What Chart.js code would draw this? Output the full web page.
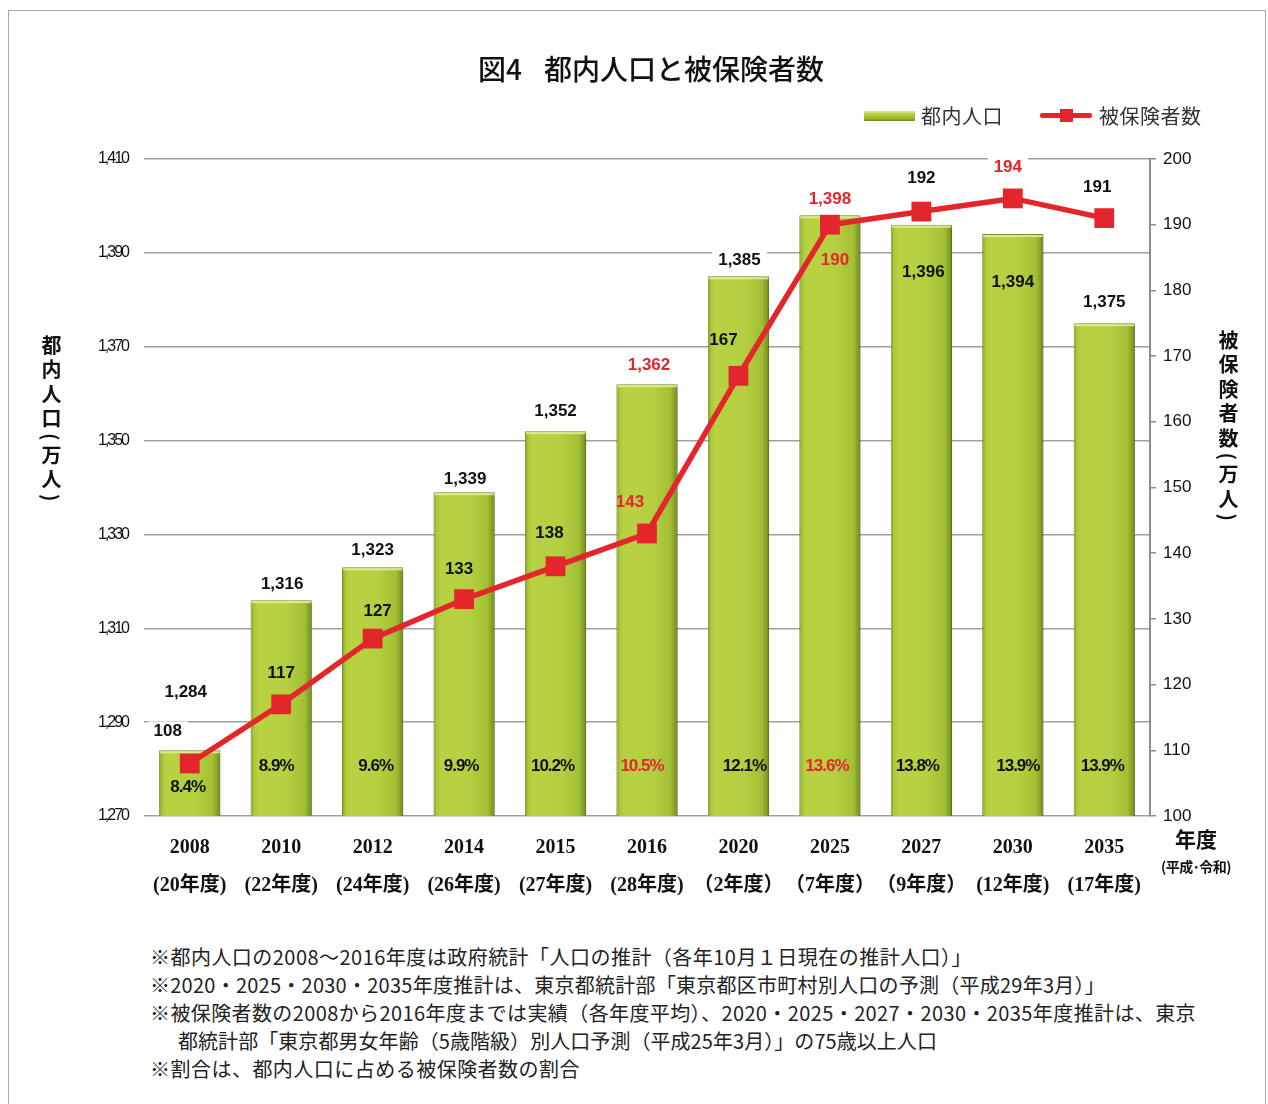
<!DOCTYPE html>
<html><head><meta charset="utf-8">
<script src="https://cdn.jsdelivr.net/npm/chart.js@4/dist/chart.umd.min.js"></script>
<style>
html,body{margin:0;padding:0;background:#fff;}
body{width:1268px;height:1104px;position:relative;overflow:hidden;font-family:'Noto Sans CJK JP',sans-serif;}
#frame{position:absolute;left:8px;top:10px;width:1258px;height:1120px;border:1.5px solid #a8a8a8;box-sizing:border-box;}
#c{position:absolute;left:0;top:0;}
.t{position:absolute;white-space:nowrap;color:#111;}
.vt{position:absolute;writing-mode:vertical-rl;text-orientation:mixed;font-weight:700;color:#111;white-space:nowrap;}
.fn{position:absolute;left:150px;white-space:nowrap;font-size:20px;line-height:28px;color:#222;}
</style></head><body>
<div id="frame"></div>
<canvas id="c" width="1268" height="920"></canvas>

<div class="t" style="left:478px;top:53px;font-size:28px;line-height:30px;font-weight:500;"><span>図4</span><span style="margin-left:22px">都内人口と被保険者数</span></div>

<div style="position:absolute;left:864px;top:111px;width:51px;height:10px;background:linear-gradient(#dbe98e 0%,#b4cf3f 30%,#9dbb32 70%,#6f8a1d 100%);"></div>
<div class="t" style="left:921px;top:104px;font-size:20px;line-height:24px;letter-spacing:0.5px;color:#333;">都内人口</div>
<div style="position:absolute;left:1040px;top:113px;width:52px;height:5px;background:#e3262b;border-radius:2px;"></div>
<div style="position:absolute;left:1060px;top:109px;width:13px;height:13px;background:#e3262b;"></div>
<div class="t" style="left:1099px;top:104px;font-size:20px;line-height:24px;letter-spacing:0.5px;color:#333;">被保険者数</div>

<div class="vt" style="left:40px;top:335px;font-size:20px;line-height:22px;letter-spacing:4.5px;">都内人口(万人)</div>
<div class="vt" style="left:1217px;top:330px;font-size:20px;line-height:22px;letter-spacing:4.5px;">被保険者数(万人)</div>

<div class="t" style="left:1156px;top:825px;width:80px;text-align:center;font-size:21px;line-height:26px;font-weight:700;">年度</div>
<div class="t" style="left:1150px;top:857px;width:92px;text-align:center;font-size:14px;line-height:18px;font-weight:700;letter-spacing:-0.5px;">(平成･令和)</div>

<div class="fn" data-w="822" style="top:943px;">※都内人口の2008～2016年度は政府統計「人口の推計（各年10月１日現在の推計人口）」</div>
<div class="fn" data-w="955" style="top:971px;">※2020・2025・2030・2035年度推計は、東京都統計部「東京都区市町村別人口の予測（平成29年3月）」</div>
<div class="fn" data-w="1046" style="top:999px;">※被保険者数の2008から2016年度までは実績（各年度平均）、2020・2025・2027・2030・2035年度推計は、東京</div>
<div class="fn" data-w="759" style="top:1027px;left:178px;">都統計部「東京都男女年齢（5歳階級）別人口予測（平成25年3月）」の75歳以上人口</div>
<div class="fn" data-w="430" style="top:1055px;">※割合は、都内人口に占める被保険者数の割合</div>

<script>
// ---- data ----
const categories = ['2008','2010','2012','2014','2015','2016','2020','2025','2027','2030','2035'];
const fiscalLabels = ['(20年度)','(22年度)','(24年度)','(26年度)','(27年度)','(28年度)','（2年度）','（7年度）','（9年度）','(12年度)','(17年度)'];
const population = [1284,1316,1323,1339,1352,1362,1385,1398,1396,1394,1375];
const insured = [108,117,127,133,138,143,167,190,192,194,191];
const ratioLabels = ['8.4%','8.9%','9.6%','9.9%','10.2%','10.5%','12.1%','13.6%','13.8%','13.9%','13.9%'];
const popAxis = {min:1270, max:1410, step:20};
const insAxis = {min:100, max:200, step:10};

// ---- styles ----
const RED = '#e3262b', BLACK = '#111';
const popRed = [5,7];
const insRed = [5,7,9];
const ratioRed = [5,7];
const popLabelOffsets = [[-4,-58],[1,-16],[0,-17],[1,-13],[0,-20],[2,-19],[1,-16],[0,-16],[2,48],[0,48],[0,-21]];
const insLabelOffsets = [[-22,-32],[0,-31],[5,-27],[-5,-30],[-6,-33],[-17,-31],[-15,-35],[5,36],[0,-33],[-5,-31],[-7,-31]];
const ratioOffsets = [[-2,-29],[-5,-50],[3,-50],[-3,-50],[-3,-50],[-5,-50],[6,-50],[-3,-50],[-4,-50],[5,-50],[-2,-50]];
const BAR_PCT = 0.67;

function barFill(c){
  const chart = c.chart;
  if (!chart.chartArea || c.type !== 'data') return '#b2cc3c';
  const xs = chart.scales.x;
  const cx = xs.getPixelForValue(c.dataIndex);
  const w = xs.width / categories.length * BAR_PCT;
  const g = chart.ctx.createLinearGradient(cx - w/2, 0, cx + w/2, 0);
  g.addColorStop(0, '#7c9a22');
  g.addColorStop(0.05, '#a9c63a');
  g.addColorStop(0.12, '#b8d242');
  g.addColorStop(0.6, '#b4cf3f');
  g.addColorStop(0.88, '#a2bf35');
  g.addColorStop(0.96, '#819e25');
  g.addColorStop(1, '#66801a');
  return g;
}

// condensed look for the left tick labels
function tightLabels(scale, spacing){
  if (scale._tight) return;
  scale._tight = true;
  const orig = scale.drawLabels.bind(scale);
  scale.drawLabels = function(area){
    const ctx = scale.ctx;
    ctx.save();
    ctx.letterSpacing = spacing;
    orig(area);
    ctx.restore();
  };
}

const labelPlugin = {
  id: 'valueLabels',
  beforeDatasetDraw(chart, args){
    if (args.index === 0){
      const ctx = chart.ctx; ctx.save();
      ctx.shadowColor = 'rgba(0,0,0,0.30)'; ctx.shadowOffsetX = 3; ctx.shadowOffsetY = 2; ctx.shadowBlur = 4;
    }
  },
  afterDatasetDraw(chart, args){
    if (args.index === 0){
      const ctx = chart.ctx; ctx.restore();
      const meta = chart.getDatasetMeta(0);
      ctx.save();
      meta.data.forEach(b => {
        ctx.fillStyle = 'rgba(225,238,150,0.9)';
        ctx.fillRect(b.x - b.width/2 + 1, b.y + 1, b.width - 2, 2);
      });
      ctx.restore();
    }
  },
  afterDatasetsDraw(chart){
    const ctx = chart.ctx;
    const bars = chart.getDatasetMeta(0).data;
    const pts = chart.getDatasetMeta(1).data;
    const baseY = chart.scales.y.getPixelForValue(popAxis.min);
    ctx.save();
    ctx.textAlign = 'center'; ctx.textBaseline = 'middle';
    const drawTxt = (txt, x, y, color, bg) => {
      if (bg){
        const w = ctx.measureText(txt).width;
        ctx.fillStyle = '#fff';
        ctx.fillRect(x - w/2 - 6, y - 10, w + 12, 20);
      }
      ctx.fillStyle = color;
      ctx.fillText(txt, x, y);
    };
    ctx.font = 'bold 17px "Liberation Sans", Arial, sans-serif';
    bars.forEach((b, i) => {
      const [dx, dy] = popLabelOffsets[i];
      drawTxt(population[i].toLocaleString('en-US'), b.x + dx, b.y + dy, popRed.includes(i) ? RED : BLACK, dy < 0);
    });
    pts.forEach((p, i) => {
      const [dx, dy] = insLabelOffsets[i];
      const y = p.y + dy;
      drawTxt(String(insured[i]), p.x + dx, y, insRed.includes(i) ? RED : BLACK, y + 10 < bars[i].y);
    });
    ctx.font = 'bold 17px "Liberation Sans", Arial, sans-serif';
    ctx.letterSpacing = '-1px';
    bars.forEach((b, i) => {
      const [dx, dy] = ratioOffsets[i];
      drawTxt(ratioLabels[i], b.x + dx, baseY + dy, ratioRed.includes(i) ? RED : BLACK, false);
    });
    ctx.restore();
  }
};

new Chart(document.getElementById('c'), {
  type: 'bar',
  data: {
    labels: categories,
    datasets: [
      {
        type: 'bar', label: '都内人口', data: population, yAxisID: 'y', order: 1,
        backgroundColor: barFill, borderColor: '#7d9626', borderWidth: 1,
        categoryPercentage: 1, barPercentage: BAR_PCT
      },
      {
        type: 'line', label: '被保険者数', data: insured, yAxisID: 'y1', order: 0,
        borderColor: RED, backgroundColor: RED, borderWidth: 5.5,
        pointStyle: 'rect', pointRadius: 14, pointBorderWidth: 0, pointBackgroundColor: RED,
        tension: 0
      }
    ]
  },
  options: {
    responsive: false, animation: false,
    layout: { padding: { top: 159, left: 0, right: 0, bottom: 0 } },
    plugins: { legend: { display: false }, tooltip: { enabled: false }, title: { display: false } },
    scales: {
      x: {
        offset: true,
        grid: { display: false, drawTicks: false },
        border: { display: false },
        ticks: {
          autoSkip: false, maxRotation: 0, padding: 13, color: BLACK,
          font: { family: "'Liberation Serif','Noto Sans CJK JP',serif", size: 20, weight: 'bold', lineHeight: '38px' },
          callback: (v, i) => [categories[i], fiscalLabels[i]]
        },
        afterFit: s => { s.height = 104; }
      },
      y: {
        position: 'left', min: popAxis.min, max: popAxis.max,
        grid: { color: '#a0a0a0', lineWidth: 1.5, drawTicks: false },
        border: { display: false },
        ticks: {
          stepSize: popAxis.step, padding: 16, color: BLACK,
          font: { family: "'Liberation Sans',Arial,sans-serif", size: 16 },
          callback: v => v.toLocaleString('en-US')
        },
        afterFit: s => { s.width = 144; tightLabels(s, '-2px'); }
      },
      y1: {
        position: 'right', min: insAxis.min, max: insAxis.max,
        grid: { drawOnChartArea: false, drawTicks: true, tickLength: 6, color: '#8c8c8c', lineWidth: 1.5 },
        border: { display: true, color: '#8c8c8c', width: 2 },
        ticks: {
          stepSize: insAxis.step, padding: 7, color: BLACK,
          font: { family: "'Liberation Sans',Arial,sans-serif", size: 17 }
        },
        afterFit: s => { s.width = 118; }
      }
    }
  },
  plugins: [labelPlugin]
});

// fit footnote lines to their measured widths
(document.fonts ? document.fonts.ready : Promise.resolve()).then(() => {
  document.querySelectorAll('.fn').forEach(el => {
    const target = +el.dataset.w;
    const n = el.textContent.length;
    const w = el.getBoundingClientRect().width;
    el.style.letterSpacing = ((target - w) / n) + 'px';
  });
});
</script>
</body></html>
